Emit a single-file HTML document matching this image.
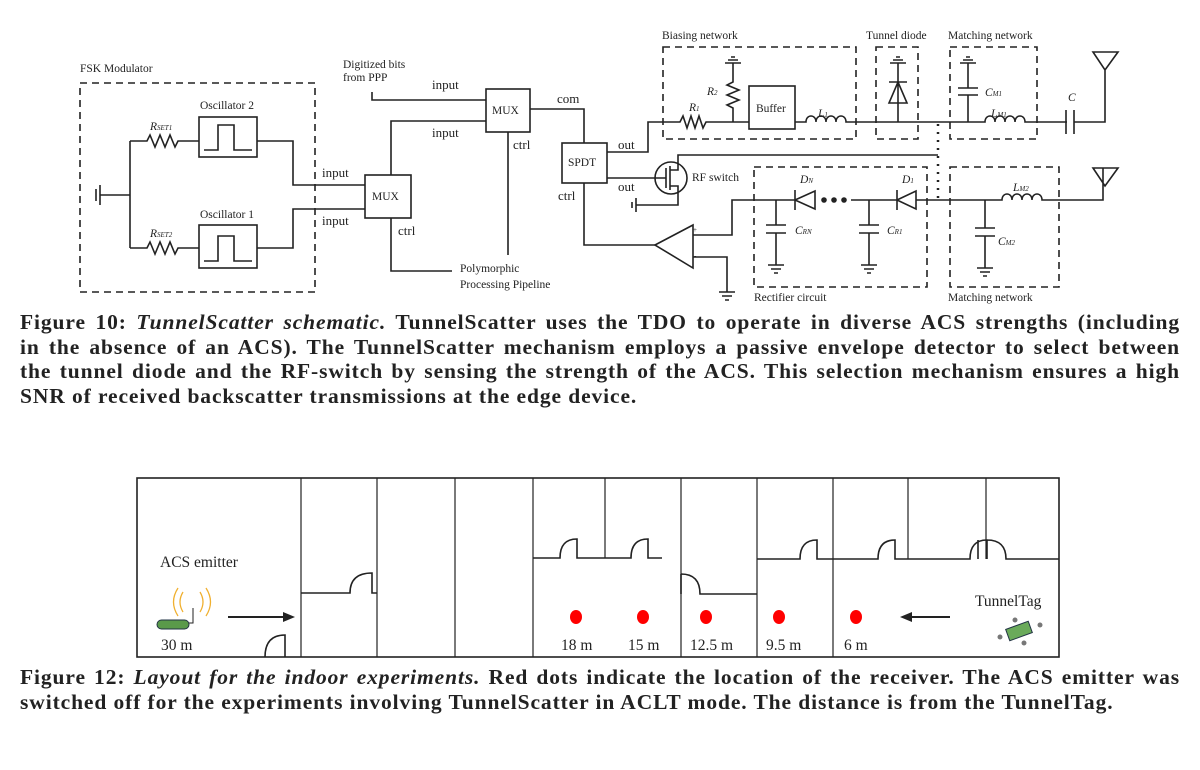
<!DOCTYPE html>
<html><head><meta charset="utf-8"><style>
body{margin:0;background:#fff;width:1200px;height:770px;overflow:hidden;position:relative}
svg{position:absolute;left:0;top:0}
.cap{position:absolute;left:20px;width:1160px;font-family:"Liberation Serif",serif;font-size:21.5px;letter-spacing:0.9px;font-weight:bold;color:#222;line-height:24.5px;white-space:nowrap}
.cap div{text-align:justify;text-align-last:justify}
.cap div.last{text-align-last:left}
</style></head><body>
<svg width="1200" height="770" viewBox="0 0 1200 770" font-family="Liberation Serif, serif" fill="none" stroke="#222" stroke-width="1.6">
<g stroke-dasharray="7,5">
<rect x="80" y="83" width="235" height="209"/>
<rect x="663" y="47" width="193" height="92"/>
<rect x="876" y="47" width="42" height="92"/>
<rect x="950" y="47" width="87" height="92"/>
<rect x="754" y="167" width="173" height="120"/>
<rect x="950" y="167" width="109" height="120"/>
</g>
<line x1="938" y1="124" x2="938" y2="200" stroke-dasharray="2,6" stroke-width="2.5"/>
<rect x="199" y="117" width="58" height="40"/><rect x="199" y="225" width="58" height="43"/>
<path d="M204 150h14v-25h16v25h18M204 261h14v-25h16v25h18"/>
<path d="M100 195h30M130 141v107M130 141h17l3-6 5 12 5-12 5 12 5-12 5 12 3-6h21M130 248h17l3-6 5 12 5-12 5 12 5-12 5 12 3-6h21"/>
<path d="M100 185v20M96 189v12"/>
<path d="M257 141h36v44h72M257 248h36v-39h72"/>
<rect x="365" y="175" width="46" height="43"/>
<path d="M391 175v-54h95M391 218v53h61M372 92v8h114"/>
<rect x="486" y="89" width="44" height="43"/>
<path d="M508 132v123M530 109h54v34"/>
<rect x="562" y="143" width="45" height="40"/>
<path d="M584 183v62h71M607 152h41v-30h15M607 178h57"/>
<circle cx="671" cy="178" r="16"/>
<path d="M664 178h2M666 168v20M670 166v24M670 170h8v-15h260M670 186h8v19h-42M636 198v14M632 202v6"/>
<path d="M655 245l38-20v43z"/>
<path d="M693 235h39v-35h63M693 257h34v35M719 292h16M722 296h10M725 300h4"/>
<path d="M663 122h17l3-6 4 12 4-12 4 12 4-12 4 12 3-6h6M712 122h37M733 122v-14l-6-3 12-5-12-5 12-5-12-5 6-3v-19M725 63h16M728 60h10M731 57h4"/>
<rect x="749" y="86" width="46" height="43"/>
<path d="M795 122h11c0-8 10-8 10 0c0-8 10-8 10 0c0-8 10-8 10 0c0-8 10-8 10 0h10M856 122h94"/>
<path d="M898 122v-40M898 103v-40M889 103h18l-9-21zM889 82h18M890 63h16M893 60h10M896 57h4"/>
<path d="M968 122v-27M958 95h20M958 88h20M968 88v-25M960 63h16M963 60h10M966 57h4M950 122h35c0-8 10-8 10 0c0-8 10-8 10 0c0-8 10-8 10 0c0-8 10-8 10 0h42M1066 110v24M1074 110v24M1074 122h31v-52M1093 52h25l-13 18z"/>
<path d="M776 200v25M766 225h20M766 233h20M776 233v32M768 265h16M771 269h10M774 273h4"/>
<path d="M795 190v20M795 200l20-9v18z"/>
<circle cx="824" cy="200" r="2" fill="#222"/><circle cx="834" cy="200" r="2" fill="#222"/><circle cx="844" cy="200" r="2" fill="#222"/>
<path d="M851 200h46M869 200v25M859 225h20M859 233h20M869 233v32M861 265h16M864 269h10M867 273h4"/>
<path d="M897 190v20M897 200l19-9v18z"/><path d="M916 200h86c0-8 10-8 10 0c0-8 10-8 10 0c0-8 10-8 10 0c0-8 10-8 10 0h61v-32M1093 168h25l-13 18z"/>
<path d="M985 200v28M975 228h20M975 236h20M985 236v32M977 268h16M980 272h10M983 276h4"/>
<g fill="#222" stroke="none" font-size="11.5">
<text x="80" y="72">FSK Modulator</text>
<text x="343" y="68">Digitized bits</text><text x="343" y="81">from PPP</text>
<text x="200" y="109">Oscillator 2</text><text x="200" y="218">Oscillator 1</text>
<text x="150" y="130" font-style="italic">R<tspan font-size="7">SET1</tspan></text>
<text x="150" y="237" font-style="italic">R<tspan font-size="7">SET2</tspan></text>
<text x="432" y="89" font-size="13">input</text><text x="432" y="137" font-size="13">input</text>
<text x="322" y="177" font-size="13">input</text><text x="322" y="225" font-size="13">input</text>
<text x="372" y="200">MUX</text><text x="492" y="114">MUX</text>
<text x="398" y="235" font-size="13">ctrl</text><text x="513" y="149" font-size="13">ctrl</text>
<text x="557" y="103" font-size="13">com</text><text x="568" y="166">SPDT</text>
<text x="558" y="200" font-size="13">ctrl</text>
<text x="618" y="149" font-size="13">out</text><text x="618" y="191" font-size="13">out</text>
<text x="460" y="272">Polymorphic</text><text x="460" y="288">Processing Pipeline</text>
<text x="662" y="39">Biasing network</text><text x="866" y="39">Tunnel diode</text><text x="948" y="39">Matching network</text>
<text x="692" y="181">RF switch</text><text x="756" y="112">Buffer</text>
<text x="754" y="301">Rectifier circuit</text><text x="948" y="301">Matching network</text>
<g font-style="italic">
<text x="707" y="95">R<tspan font-size="7">2</tspan></text><text x="689" y="111">R<tspan font-size="7">1</tspan></text>
<text x="818" y="117">L<tspan font-size="7">1</tspan></text>
<text x="985" y="96">C<tspan font-size="7">M1</tspan></text><text x="991" y="117">L<tspan font-size="7">M1</tspan></text>
<text x="1068" y="101">C</text>
<text x="800" y="183">D<tspan font-size="7">N</tspan></text><text x="902" y="183">D<tspan font-size="7">1</tspan></text>
<text x="795" y="234">C<tspan font-size="7">RN</tspan></text><text x="887" y="234">C<tspan font-size="7">R1</tspan></text>
<text x="1013" y="191">L<tspan font-size="7">M2</tspan></text><text x="998" y="245">C<tspan font-size="7">M2</tspan></text>
</g>
<text x="693" y="232" font-size="7">+</text><text x="694" y="258" font-size="7">-</text>
</g>
<rect x="137" y="478" width="922" height="179" stroke-width="1.6"/>
<path d="M301 478v179M377 478v179M455 478v179M533 478v179M681 478v179M757 478v179M833 478v179M605 478v80M908 478v81M986 478v81" stroke-width="1.2"/>
<path d="M301 593h49q0-20 22-20v20h5"/>
<path d="M265 657q0-22 20-22v22"/>
<path d="M533 558h27q0-19 17-19v19h28h26q0-19 17-19v19h14"/>
<path d="M681 574q19 0 19 20h57M681 574v20"/>
<path d="M757 559h43q0-19 17-19v19h16h45q0-19 17-19v19h30h45q0-19 17-19v19M978 540v19M987 540v19M987 540q19 0 19 19h53"/>
<g fill="red" stroke="none"><ellipse cx="576" cy="617" rx="6" ry="7"/><ellipse cx="643" cy="617" rx="6" ry="7"/><ellipse cx="706" cy="617" rx="6" ry="7"/><ellipse cx="779" cy="617" rx="6" ry="7"/><ellipse cx="856" cy="617" rx="6" ry="7"/></g>
<path d="M228 617h55" stroke-width="2"/><path d="M283 612l12 5-12 5z" fill="#222" stroke="none"/>
<path d="M912 617h38" stroke-width="2"/><path d="M912 612l-12 5 12 5z" fill="#222" stroke="none"/>
<rect x="157" y="620" width="32" height="9" rx="4.5" fill="#5a9a4a" stroke="#234" stroke-width="1"/>
<path d="M189 623h4v-15" stroke-width="1"/>
<path d="M183 592q-6 10 0 20M200 592q6 10 0 20M178 588q-9 14 0 28M206 588q9 14 0 28" stroke="#f0b030" stroke-width="1.3"/>
<rect x="1007" y="625" width="24" height="12" fill="#6aaa5a" stroke="#234" stroke-width="1" transform="rotate(-20 1019 631)"/>
<g fill="#777" stroke="none"><circle cx="1000" cy="637" r="2.5"/><circle cx="1040" cy="625" r="2.5"/><circle cx="1015" cy="620" r="2.5"/><circle cx="1024" cy="643" r="2.5"/></g>
<g fill="#222" stroke="none" font-size="15.5">
<text x="160" y="567">ACS emitter</text><text x="161" y="650">30 m</text>
<text x="975" y="606">TunnelTag</text>
<text x="561" y="650">18 m</text><text x="628" y="650">15 m</text><text x="690" y="650">12.5 m</text><text x="766" y="650">9.5 m</text><text x="844" y="650">6 m</text>
</g>
</svg>
<div class="cap" style="top:310px">
<div>Figure 10: <i>TunnelScatter schematic.</i> TunnelScatter uses the TDO to operate in diverse ACS strengths (including</div>
<div>in the absence of an ACS). The TunnelScatter mechanism employs a passive envelope detector to select between</div>
<div>the tunnel diode and the RF-switch by sensing the strength of the ACS. This selection mechanism ensures a high</div>
<div class="last">SNR of received backscatter transmissions at the edge device.</div>
</div>
<div class="cap" style="top:665px">
<div>Figure 12: <i>Layout for the indoor experiments.</i> Red dots indicate the location of the receiver. The ACS emitter was</div>
<div class="last">switched off for the experiments involving TunnelScatter in ACLT mode. The distance is from the TunnelTag.</div>
</div>
</body></html>
